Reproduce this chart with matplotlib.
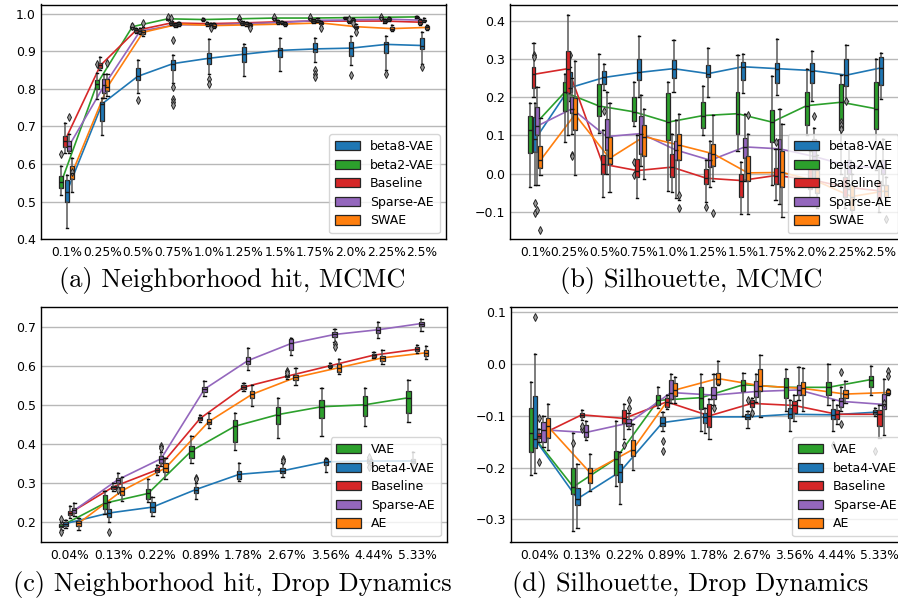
import matplotlib
matplotlib.use("Agg")
import matplotlib.pyplot as plt
from matplotlib.patches import Patch
import numpy as np

# ---------------- categories ----------------
cats_mcmc = ['0.1%', '0.25%', '0.5%', '0.75%', '1.0%', '1.25%', '1.5%', '1.75%', '2.0%', '2.25%', '2.5%']
cats_drop = ['0.04%', '0.13%', '0.22%', '0.89%', '1.78%', '2.67%', '3.56%', '4.44%', '5.33%']

names_mcmc = ['beta8-VAE', 'beta2-VAE', 'Baseline', 'Sparse-AE', 'SWAE']
names_drop = ['VAE', 'beta4-VAE', 'Baseline', 'Sparse-AE', 'AE']

# each entry: (whisker low, q1, median, q3, whisker high)
# ---------------- (a) Neighborhood hit, MCMC ----------------
a_beta8 = [(0.429, 0.498, 0.525, 0.557, 0.570), (0.678, 0.714, 0.760, 0.766, 0.775), (0.790, 0.823, 0.833, 0.854, 0.876),
           (0.815, 0.850, 0.867, 0.876, 0.891), (0.840, 0.866, 0.881, 0.894, 0.931), (0.835, 0.870, 0.892, 0.912, 0.918),
           (0.846, 0.884, 0.902, 0.909, 0.934), (0.870, 0.897, 0.906, 0.921, 0.935), (0.862, 0.888, 0.908, 0.925, 0.940),
           (0.850, 0.894, 0.918, 0.925, 0.940), (0.867, 0.906, 0.915, 0.936, 0.952)]
a_beta2 = [(0.518, 0.537, 0.552, 0.567, 0.595), (0.772, 0.799, 0.812, 0.823, 0.841), (0.958, 0.962, 0.965, 0.968, 0.972),
           (0.982, 0.984, 0.986, 0.988, 0.990), (0.979, 0.982, 0.984, 0.986, 0.988), (0.982, 0.985, 0.986, 0.988, 0.990),
           (0.984, 0.986, 0.988, 0.989, 0.991), (0.984, 0.986, 0.988, 0.989, 0.991), (0.985, 0.987, 0.989, 0.990, 0.992),
           (0.986, 0.988, 0.990, 0.991, 0.993), (0.987, 0.989, 0.991, 0.992, 0.994)]
a_base = [(0.630, 0.645, 0.662, 0.675, 0.710), (0.850, 0.855, 0.862, 0.868, 0.885), (0.948, 0.951, 0.955, 0.958, 0.962),
          (0.970, 0.973, 0.975, 0.977, 0.980), (0.968, 0.971, 0.973, 0.975, 0.978), (0.970, 0.973, 0.975, 0.977, 0.980),
          (0.973, 0.976, 0.978, 0.980, 0.983), (0.975, 0.978, 0.980, 0.982, 0.985), (0.975, 0.977, 0.980, 0.983, 0.986),
          (0.974, 0.977, 0.980, 0.983, 0.986), (0.970, 0.973, 0.977, 0.982, 0.985)]
a_sparse = [(0.630, 0.635, 0.648, 0.660, 0.680), (0.775, 0.790, 0.810, 0.825, 0.840), (0.945, 0.949, 0.953, 0.957, 0.962),
            (0.965, 0.968, 0.970, 0.972, 0.975), (0.965, 0.968, 0.970, 0.972, 0.975), (0.968, 0.971, 0.973, 0.975, 0.978),
            (0.971, 0.974, 0.976, 0.978, 0.981), (0.977, 0.980, 0.982, 0.984, 0.987), (0.978, 0.981, 0.983, 0.985, 0.988),
            (0.980, 0.983, 0.985, 0.987, 0.990), (0.977, 0.980, 0.982, 0.984, 0.987)]
a_swae = [(0.525, 0.560, 0.575, 0.595, 0.615), (0.780, 0.795, 0.805, 0.825, 0.840), (0.940, 0.945, 0.950, 0.955, 0.965),
          (0.966, 0.969, 0.972, 0.975, 0.978), (0.962, 0.965, 0.968, 0.971, 0.974), (0.964, 0.967, 0.970, 0.973, 0.976),
          (0.966, 0.969, 0.972, 0.975, 0.978), (0.968, 0.972, 0.975, 0.978, 0.981), (0.958, 0.962, 0.965, 0.968, 0.972),
          (0.953, 0.956, 0.960, 0.965, 0.970), (0.956, 0.959, 0.963, 0.966, 0.970)]
# outliers: (category index, value)
a_beta8_out = [(2, 0.770), (3, 0.929), (3, 0.804), (3, 0.772), (3, 0.765), (3, 0.758), (4, 0.825), (4, 0.813),
               (7, 0.850), (7, 0.840), (7, 0.830), (8, 0.836), (9, 0.838), (10, 0.857)]
a_beta2_out = [(0, 0.628), (1, 0.867), (2, 0.968), (3, 0.990), (5, 0.989), (6, 0.990), (7, 0.990), (9, 0.992)]
a_base_out = [(3, 0.988), (8, 0.985)]
a_sparse_out = [(0, 0.725), (4, 0.962), (8, 0.975)]
a_swae_out = [(0, 0.580), (1, 0.868), (2, 0.975), (5, 0.962), (7, 0.962), (8, 0.950)]

# ---------------- (b) Silhouette, MCMC ----------------
b_beta8 = [(-0.030, 0.057, 0.090, 0.149, 0.185), (0.190, 0.214, 0.225, 0.266, 0.280), (0.220, 0.235, 0.252, 0.268, 0.287),
           (0.200, 0.245, 0.265, 0.300, 0.360), (0.215, 0.250, 0.275, 0.297, 0.350), (0.200, 0.252, 0.262, 0.285, 0.330),
           (0.210, 0.245, 0.280, 0.292, 0.313), (0.205, 0.238, 0.275, 0.290, 0.352), (0.190, 0.238, 0.270, 0.290, 0.322),
           (0.190, 0.230, 0.258, 0.300, 0.337), (0.195, 0.232, 0.277, 0.305, 0.315)]
b_beta2 = [(-0.035, 0.055, 0.115, 0.150, 0.185), (0.082, 0.165, 0.213, 0.240, 0.262), (0.107, 0.150, 0.177, 0.236, 0.313),
           (0.125, 0.137, 0.162, 0.200, 0.240), (-0.045, 0.088, 0.135, 0.210, 0.240), (0.100, 0.120, 0.152, 0.187, 0.230),
           (0.060, 0.105, 0.157, 0.213, 0.312), (-0.030, 0.082, 0.135, 0.167, 0.255), (0.100, 0.127, 0.178, 0.215, 0.273),
           (0.000, 0.113, 0.187, 0.235, 0.258), (0.010, 0.117, 0.170, 0.240, 0.300)]
b_base = [(0.200, 0.225, 0.260, 0.280, 0.342), (0.100, 0.210, 0.275, 0.320, 0.415), (-0.060, 0.000, 0.025, 0.050, 0.115),
          (-0.065, -0.010, 0.008, 0.038, 0.100), (-0.047, -0.008, 0.017, 0.052, 0.105), (-0.073, -0.027, -0.012, 0.012, 0.035),
          (-0.107, -0.060, -0.018, -0.002, 0.030), (-0.070, -0.028, -0.005, 0.015, 0.065), (-0.070, -0.040, -0.015, 0.020, 0.060),
          (-0.090, -0.060, -0.035, -0.010, 0.030), (-0.100, -0.070, -0.045, -0.020, 0.020)]
b_sparse = [(-0.030, 0.100, 0.125, 0.175, 0.227), (0.105, 0.160, 0.170, 0.200, 0.250), (0.000, 0.062, 0.097, 0.143, 0.215),
            (0.020, 0.052, 0.105, 0.150, 0.205), (-0.065, 0.035, 0.062, 0.085, 0.140), (-0.035, 0.017, 0.035, 0.055, 0.085),
            (-0.020, 0.040, 0.070, 0.093, 0.155), (-0.080, -0.028, 0.065, 0.092, 0.170), (-0.020, 0.010, 0.045, 0.092, 0.120),
            (-0.040, 0.000, 0.020, 0.035, 0.070), (-0.030, 0.000, 0.015, 0.035, 0.090)]
b_swae = [(-0.003, 0.015, 0.035, 0.073, 0.145), (-0.003, 0.115, 0.155, 0.197, 0.296), (-0.048, 0.025, 0.040, 0.097, 0.185),
          (-0.015, 0.047, 0.097, 0.128, 0.170), (-0.070, 0.035, 0.075, 0.105, 0.157), (-0.020, 0.020, 0.052, 0.078, 0.153),
          (-0.107, -0.020, 0.002, 0.045, 0.105), (-0.113, -0.035, 0.003, 0.060, 0.130), (-0.090, -0.050, -0.020, 0.010, 0.050),
          (-0.120, -0.095, -0.060, -0.030, 0.000), (-0.070, -0.060, -0.045, -0.030, -0.010)]
b_beta8_out = [(0, -0.078), (0, -0.104), (1, 0.312), (2, 0.165), (9, 0.190)]
b_beta2_out = [(3, 0.030), (3, -0.004), (9, 0.135), (9, 0.128), (9, 0.118)]
b_base_out = [(0, 0.310), (0, 0.305), (5, -0.088), (7, 0.083)]
b_sparse_out = [(0, -0.095), (1, 0.050), (1, 0.045), (8, 0.150)]
b_swae_out = [(0, -0.148), (4, -0.057), (4, -0.090), (5, -0.102), (6, 0.153), (10, -0.120)]

# ---------------- (c) Neighborhood hit, Drop Dynamics ----------------
c_vae = [(0.180, 0.187, 0.190, 0.195, 0.200), (0.220, 0.232, 0.248, 0.270, 0.280), (0.250, 0.260, 0.273, 0.285, 0.310),
         (0.350, 0.365, 0.382, 0.395, 0.420), (0.385, 0.405, 0.445, 0.460, 0.480), (0.415, 0.450, 0.475, 0.494, 0.517),
         (0.420, 0.465, 0.495, 0.513, 0.543), (0.446, 0.470, 0.500, 0.523, 0.544), (0.455, 0.480, 0.518, 0.535, 0.563)]
c_beta4 = [(0.185, 0.190, 0.196, 0.200, 0.205), (0.200, 0.212, 0.223, 0.232, 0.250), (0.215, 0.225, 0.238, 0.250, 0.265),
           (0.258, 0.275, 0.283, 0.290, 0.300), (0.305, 0.310, 0.322, 0.330, 0.350), (0.315, 0.325, 0.331, 0.337, 0.350),
           (0.328, 0.345, 0.354, 0.360, 0.365), (0.345, 0.350, 0.356, 0.360, 0.365), (0.330, 0.350, 0.356, 0.362, 0.378)]
c_base = [(0.210, 0.218, 0.223, 0.228, 0.240), (0.280, 0.285, 0.290, 0.293, 0.300), (0.320, 0.328, 0.333, 0.337, 0.345),
          (0.455, 0.462, 0.465, 0.468, 0.475), (0.535, 0.540, 0.545, 0.550, 0.555), (0.565, 0.570, 0.573, 0.575, 0.578),
          (0.594, 0.597, 0.600, 0.603, 0.606), (0.619, 0.623, 0.627, 0.630, 0.634), (0.632, 0.637, 0.642, 0.647, 0.652)]
c_sparse = [(0.215, 0.224, 0.230, 0.235, 0.248), (0.290, 0.300, 0.308, 0.313, 0.325), (0.343, 0.352, 0.362, 0.370, 0.380),
            (0.523, 0.532, 0.540, 0.545, 0.560), (0.590, 0.605, 0.613, 0.622, 0.645), (0.627, 0.640, 0.657, 0.668, 0.672),
            (0.660, 0.673, 0.680, 0.685, 0.693), (0.672, 0.683, 0.692, 0.700, 0.713), (0.690, 0.702, 0.708, 0.713, 0.720)]
c_ae = [(0.180, 0.190, 0.197, 0.202, 0.210), (0.253, 0.270, 0.280, 0.290, 0.315), (0.310, 0.328, 0.338, 0.350, 0.365),
        (0.440, 0.450, 0.457, 0.463, 0.480), (0.497, 0.518, 0.527, 0.535, 0.550), (0.550, 0.563, 0.570, 0.577, 0.593),
        (0.578, 0.585, 0.595, 0.605, 0.617), (0.605, 0.613, 0.620, 0.625, 0.640), (0.617, 0.625, 0.633, 0.640, 0.650)]
c_vae_out = [(0, 0.208), (0, 0.175)]
c_beta4_out = [(1, 0.175), (3, 0.312), (3, 0.309), (5, 0.360), (5, 0.356), (7, 0.367), (7, 0.340)]
c_base_out = [(5, 0.586), (5, 0.581)]
c_sparse_out = [(1, 0.283), (2, 0.395), (2, 0.390), (6, 0.655), (6, 0.648)]
c_ae_out = []

# ---------------- (d) Silhouette, Drop Dynamics ----------------
d_vae = [(-0.215, -0.170, -0.133, -0.085, -0.035), (-0.322, -0.250, -0.237, -0.200, -0.133), (-0.235, -0.215, -0.183, -0.168, -0.110),
         (-0.085, -0.080, -0.070, -0.060, -0.045), (-0.130, -0.087, -0.065, -0.045, -0.020), (-0.100, -0.053, -0.040, -0.030, -0.018),
         (-0.090, -0.066, -0.045, -0.027, -0.010), (-0.080, -0.060, -0.045, -0.035, 0.000), (-0.060, -0.045, -0.030, -0.024, -0.003)]
d_beta4 = [(-0.210, -0.162, -0.145, -0.062, 0.020), (-0.317, -0.272, -0.260, -0.240, -0.193), (-0.270, -0.228, -0.208, -0.193, -0.170),
           (-0.130, -0.120, -0.113, -0.103, -0.093), (-0.133, -0.113, -0.102, -0.095, -0.085), (-0.123, -0.107, -0.102, -0.097, -0.090),
           (-0.130, -0.105, -0.097, -0.085, -0.070), (-0.130, -0.107, -0.098, -0.087, -0.070), (-0.100, -0.097, -0.093, -0.088, -0.085)]
d_base = [(-0.150, -0.143, -0.138, -0.133, -0.125), (-0.108, -0.103, -0.098, -0.095, -0.088), (-0.145, -0.113, -0.105, -0.088, -0.077),
          (-0.087, -0.083, -0.073, -0.065, -0.060), (-0.145, -0.122, -0.100, -0.077, -0.067), (-0.090, -0.083, -0.076, -0.070, -0.065),
          (-0.110, -0.095, -0.080, -0.072, -0.060), (-0.115, -0.107, -0.097, -0.088, -0.080), (-0.143, -0.120, -0.097, -0.088, -0.080)]
d_sparse = [(-0.160, -0.150, -0.127, -0.112, -0.100), (-0.147, -0.140, -0.132, -0.118, -0.110), (-0.125, -0.120, -0.114, -0.107, -0.095),
            (-0.075, -0.067, -0.055, -0.030, -0.020), (-0.080, -0.067, -0.060, -0.045, -0.020), (-0.073, -0.063, -0.053, -0.033, -0.020),
            (-0.070, -0.060, -0.050, -0.040, -0.005), (-0.090, -0.083, -0.072, -0.065, -0.045), (-0.137, -0.087, -0.078, -0.058, -0.028)]
d_ae = [(-0.165, -0.143, -0.120, -0.105, -0.078), (-0.245, -0.230, -0.210, -0.200, -0.173), (-0.205, -0.178, -0.165, -0.147, -0.115),
        (-0.075, -0.062, -0.050, -0.037, -0.025), (-0.040, -0.038, -0.028, -0.018, 0.005), (-0.103, -0.053, -0.042, -0.010, 0.018),
        (-0.090, -0.060, -0.047, -0.035, -0.008), (-0.075, -0.065, -0.058, -0.050, -0.033), (-0.060, -0.058, -0.055, -0.050, -0.048)]
d_vae_out = [(1, -0.152)]
d_beta4_out = [(0, 0.090), (3, -0.148), (3, -0.167), (5, -0.070), (7, -0.157), (8, -0.167)]
d_base_out = [(0, -0.104), (0, -0.189), (1, -0.125), (1, -0.120), (2, -0.157), (5, -0.095)]
d_sparse_out = [(2, -0.069), (2, -0.085), (4, -0.085), (7, -0.015), (7, -0.116), (8, -0.075)]
d_ae_out = [(8, -0.013), (8, -0.023)]

# ---------------- styling ----------------
C_BLUE, C_GREEN, C_RED, C_PURPLE, C_ORANGE = '#1f77b4', '#2ca02c', '#d62728', '#9467bd', '#ff7f0e'

W, H = 898, 602
fig = plt.figure(figsize=(W / 100, H / 100), dpi=100)


def add_ax(l, t, r, b):
    return fig.add_axes([l / W, 1 - b / H, (r - l) / W, (b - t) / H])


def draw_panel(ax, cats, series, xlim, ylim, yticks, width):
    # lines through the medians first, boxes on top
    for name, color, data, outs, off in series:
        pos = np.arange(len(cats)) + off
        meds = [d[2] for d in data]
        ax.plot(pos, meds, color=color, lw=1.2, zorder=2)
    for name, color, data, outs, off in series:
        pos = np.arange(len(cats)) + off
        stats = []
        for i, (lo, q1, med, q3, hi) in enumerate(data):
            fl = [v for (k, v) in outs if k == i]
            stats.append(dict(whislo=lo, q1=q1, med=med, q3=q3, whishi=hi, fliers=fl))
        ax.bxp(stats, positions=pos, widths=width, patch_artist=True, manage_ticks=False,
               capwidths=width * 0.55,
               boxprops=dict(facecolor=color, edgecolor='0.15', linewidth=0.9),
               medianprops=dict(color='0.1', linewidth=1.0),
               whiskerprops=dict(color='0.35', linewidth=1.1),
               capprops=dict(color='0.05', linewidth=1.0),
               flierprops=dict(marker='d', markersize=4, markerfacecolor='0.6',
                               markeredgecolor='0.15', markeredgewidth=0.7),
               zorder=3)
    ax.set_xlim(*xlim)
    ax.set_ylim(*ylim)
    ax.set_xticks(np.arange(len(cats)))
    ax.set_xticklabels(cats)
    ax.set_yticks(yticks)
    ax.tick_params(axis='x', length=0, pad=4.5, labelsize=8.8)
    ax.tick_params(axis='y', length=0, pad=3.5, labelsize=9)
    ax.yaxis.grid(True, color='#b8b8b8', linewidth=1.0, zorder=0)
    ax.set_axisbelow(True)
    for s in ax.spines.values():
        s.set_linewidth(1.0)
        s.set_color('black')
    handles = [Patch(facecolor=c, edgecolor='0.15', linewidth=0.9) for (_, c, _, _, _) in series]
    labels = [n for (n, _, _, _, _) in series]
    ax.legend(handles, labels, loc='lower right', fontsize=9, handlelength=2.0, handleheight=0.75,
              labelspacing=0.45, handletextpad=0.8, borderaxespad=0.5, borderpad=0.45)


# offsets (in category units) for box placement
off_mcmc = [0.0, -0.15, -0.05, 0.065, 0.15]
off_drop = [-0.2, -0.1, 0.0, 0.1, 0.2]

ax_a = add_ax(40.7, 4.5, 446, 239.3)
draw_panel(ax_a, cats_mcmc,
           [(names_mcmc[0], C_BLUE, a_beta8, a_beta8_out, off_mcmc[0]),
            (names_mcmc[1], C_GREEN, a_beta2, a_beta2_out, off_mcmc[1]),
            (names_mcmc[2], C_RED, a_base, a_base_out, off_mcmc[2]),
            (names_mcmc[3], C_PURPLE, a_sparse, a_sparse_out, off_mcmc[3]),
            (names_mcmc[4], C_ORANGE, a_swae, a_swae_out, off_mcmc[4])],
           (-0.73, 10.68), (0.4, 1.024), [0.4, 0.5, 0.6, 0.7, 0.8, 0.9, 1.0], 0.113)

ax_b = add_ax(510, 4.5, 904.5, 239.3)
draw_panel(ax_b, cats_mcmc,
           [(names_mcmc[0], C_BLUE, b_beta8, b_beta8_out, off_mcmc[0]),
            (names_mcmc[1], C_GREEN, b_beta2, b_beta2_out, off_mcmc[1]),
            (names_mcmc[2], C_RED, b_base, b_base_out, off_mcmc[2]),
            (names_mcmc[3], C_PURPLE, b_sparse, b_sparse_out, off_mcmc[3]),
            (names_mcmc[4], C_ORANGE, b_swae, b_swae_out, off_mcmc[4])],
           (-0.73, 10.68), (-0.172, 0.443), [-0.1, 0.0, 0.1, 0.2, 0.3, 0.4], 0.115)

ax_c = add_ax(40.7, 306.7, 447, 542.3)
draw_panel(ax_c, cats_drop,
           [(names_drop[0], C_GREEN, c_vae, c_vae_out, off_drop[0]),
            (names_drop[1], C_BLUE, c_beta4, c_beta4_out, off_drop[1]),
            (names_drop[2], C_RED, c_base, c_base_out, off_drop[2]),
            (names_drop[3], C_PURPLE, c_sparse, c_sparse_out, off_drop[3]),
            (names_drop[4], C_ORANGE, c_ae, c_ae_out, off_drop[4])],
           (-0.675, 8.69), (0.148, 0.751), [0.2, 0.3, 0.4, 0.5, 0.6, 0.7], 0.1)

ax_d = add_ax(510.5, 307, 908.8, 542.3)
draw_panel(ax_d, cats_drop,
           [(names_drop[0], C_GREEN, d_vae, d_vae_out, off_drop[0]),
            (names_drop[1], C_BLUE, d_beta4, d_beta4_out, off_drop[1]),
            (names_drop[2], C_RED, d_base, d_base_out, off_drop[2]),
            (names_drop[3], C_PURPLE, d_sparse, d_sparse_out, off_drop[3]),
            (names_drop[4], C_ORANGE, d_ae, d_ae_out, off_drop[4])],
           (-0.675, 8.69), (-0.344, 0.11), [-0.3, -0.2, -0.1, 0.0, 0.1], 0.1)

# captions
cap_kw = dict(fontfamily='cmr10', fontsize=19, ha='center', va='baseline')
fig.text(232.5 / W, 1 - 287.5 / H, '(a) Neighborhood hit, MCMC', **cap_kw)
fig.text(691 / W, 1 - 287.5 / H, '(b) Silhouette, MCMC', **cap_kw)
fig.text(232.5 / W, 1 - 590.5 / H, '(c) Neighborhood hit, Drop Dynamics', **cap_kw)
fig.text(690.5 / W, 1 - 590.5 / H, '(d) Silhouette, Drop Dynamics', **cap_kw)

fig.savefig('out.png', dpi=100)
